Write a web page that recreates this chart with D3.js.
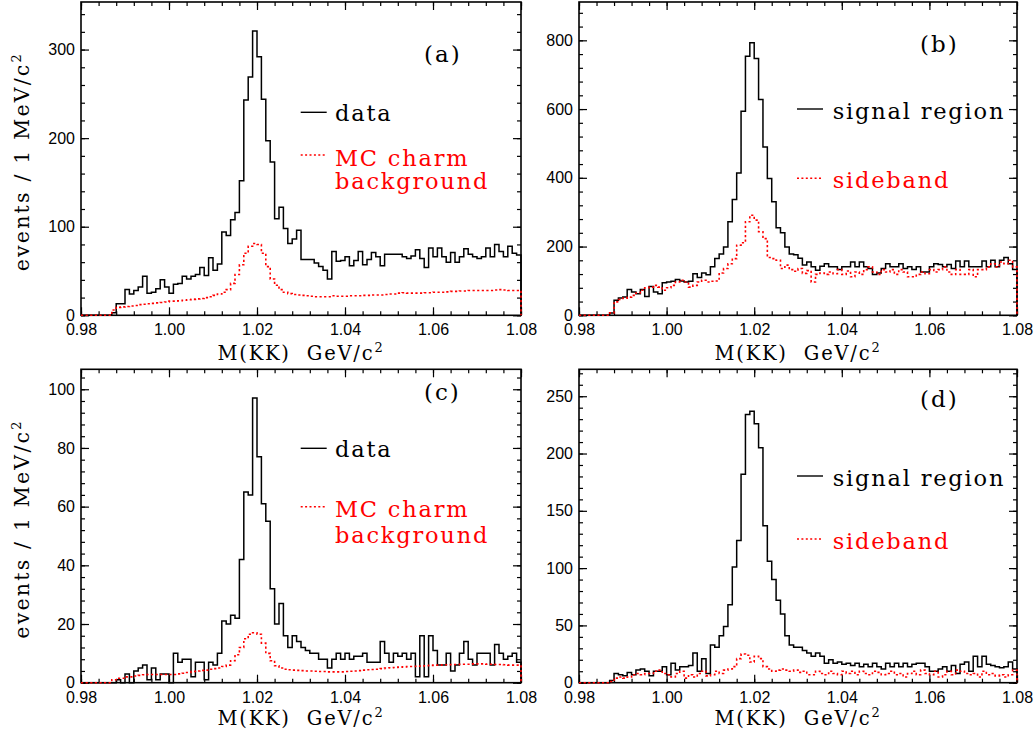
<!DOCTYPE html>
<html>
<head>
<meta charset="utf-8">
<script src="https://cdn.jsdelivr.net/npm/d3@7"></script>
<style>
  body { margin: 0; background: #fff; }
  svg { display: block; }
  .serif { font-family: "DejaVu Serif", serif; white-space: pre; }
</style>
</head>
<body>
<svg id="chart" width="1035" height="740"></svg>
<script>
// M(KK) histograms, 1 MeV/c^2 bins from 0.980 to 1.080 GeV/c^2
const massEdges = d3.range(101).map(i => 0.98 + i * 0.001);
const xMajorTicks = [0.98, 1.00, 1.02, 1.04, 1.06, 1.08];

// (a) data vs. MC charm background
const aData = [0,0,0,0,0,0,0,3,13,13,
  29,24,28,32,44,25,26,30,40,32,
  25,35,36,44,41,44,46,54,45,65,
  51,58,94,90,108,116,152,243,269,321,
  292,244,197,173,109,122,98,81,86,96,
  63,63,63,59,55,51,41,72,61,62,
  66,56,62,72,57,63,71,66,56,69,
  69,69,69,66,64,67,74,64,54,76,
  66,76,66,60,71,60,66,75,69,66,
  64,66,76,66,80,72,66,78,70,68];
const aMC = [0,0,0,0,0,0,0,6,9,9.5,
  10,10.5,11,12,12.5,13,13.5,14,14.5,15,
  16,16,16.5,17,17.5,18,18.5,19,20,21,
  22.5,24,26,29,36,46,57,70,78,81,
  80,70,55,41,34,29,26,24.5,23.5,23,
  22.5,22,21.5,21,21,21,21,22,21.5,21.5,
  21.5,22,22,22,22.5,22.5,23,23,23,23.5,
  24,24,25,25.5,25,25,25,25,25.5,25.5,
  26,26,26,26.5,27,27,27.5,27.5,28,28,
  28,28,28,28,28.5,29,28.5,28,28,28];
const aYTicks = [0, 100, 200, 300];

// (b) signal region vs. sideband
const bSignal = [0,0,0,0,0,0,0,7,44,50,
  53,75,68,63,75,55,84,68,63,95,
  97,99,104,100,97,99,121,110,123,118,
  141,165,178,199,272,337,414,594,754,793,
  747,628,490,398,330,255,240,199,178,176,
  166,146,155,141,131,143,150,141,141,133,
  141,141,155,141,155,141,136,119,123,136,
  150,141,141,150,136,141,133,141,126,126,
  141,150,148,141,148,136,158,141,158,141,
  141,141,158,141,160,141,160,168,150,133];
const bSideband = [0,0,0,0,0,0,0,7,39,46,
  50,53,58,65,73,80,82,87,82,73,
  80,87,97,102,97,82,87,97,102,97,
  99,100,123,136,150,165,204,211,272,291,
  277,243,223,168,165,160,136,146,133,128,
  136,122,130,97,119,123,119,126,121,133,
  119,129,112,126,119,133,141,126,119,133,
  126,133,119,133,126,112,112,119,126,121,
  133,126,133,141,126,119,133,119,119,133,
  112,133,133,141,150,141,155,150,160,141];
const bYTicks = [0, 200, 400, 600, 800];

// (c) data vs. MC charm background
const cData = [0,0,0,0,0,0,0,0,1,0,
  3,0,4,5,6,1,5,1,3,3,
  0,10,7,8,8,2,7,7,1,7,
  6,10,21,20,23,22,42,65,64,97,
  77,61,55,32,20,27,16,12,16,14,
  12,11,10,10,8,8,5,8,10,8,
  10,8,9,9,10,7,7,7,14,10,
  7,10,9,10,8,10,2,16,2,16,
  11,6,6,10,4,6,10,14,8,6,
  10,10,10,6,13,10,8,9,10,7];
const cMC = [0,0,0,0,0,0,0,1,1.5,1.5,
  2,2,2.3,2.5,2.7,2.8,2.8,2.8,2.8,2.8,
  2.8,2.8,3,3.2,3.5,3.8,4,4.2,4.3,4.6,
  4.8,5,5.5,6,7.5,9.5,12,15,16.5,17,
  16.5,13.5,10,7.5,5.8,5,4.6,4.4,4.3,4.2,
  4.1,4,4,3.9,3.8,3.8,3.7,3.7,3.7,3.7,
  3.8,3.9,4,4.1,4.3,4.4,4.5,4.6,4.8,5,
  5.1,5.2,5.3,5.4,5.5,5.5,5.6,5.7,5.8,5.9,
  6,6,6.1,6.1,6.2,6.2,6.3,6.3,6.3,6.4,
  6.4,6.4,6.3,6.3,6.2,6.2,6.1,6,6,6];
const cYTicks = [0, 20, 40, 60, 80, 100];

// (d) signal region vs. sideband
const dSignal = [0,0,0,0,0,0,0,2,8,7,
  6,9,7,11,12,10,6,10,10,14,
  7,17,11,14,14,15,26,10,21,8,
  33,31,41,49,68,101,124,182,234,237,
  226,205,137,106,90,72,60,41,33,31,
  31,28,26,23,26,23,17,20,17,18,
  16,17,15,17,14,16,14,17,14,12,
  17,14,17,14,17,14,16,17,17,14,
  10,10,12,14,10,15,8,16,18,10,
  23,14,23,16,15,14,13,14,18,12];
const dSideband = [0,0,0,0,0,0,0,1,4,5,
  4,5,7,8,7,8,8,10,11,8,
  7,5,8,10,4,7,5,8,10,6,
  7,10,8,11,12,14,21,25,24,18,
  23,21,14,12,10,11,12,11,10,11,
  9,10,7,7,10,8,7,10,8,7,
  10,8,10,7,10,8,7,10,9,7,
  8,10,7,8,5,8,10,7,11,8,
  7,10,5,7,10,7,11,10,8,7,
  8,5,10,7,8,6,7,5,7,11];
const dYTicks = [0, 50, 100, 150, 200, 250];

const RED = "#ff0000";
const svg = d3.select("#chart");

const panels = [
  { tag: "(a)", x0: 81, x1: 521, y0: 2, y1: 315.3, yMax: 353.7, yTicks: aYTicks, yMinor: 20,
    solid: aData, dotted: aMC, yTitle: true, tagPos: [424, 62], titleY: 360,
    legendX: 300.7, textX: 335,
    legend: [ { dotted: false, lineY: 112.3, rows: [["data", 121]] },
              { dotted: true, lineY: 155, rows: [["MC charm", 165.7], ["background", 189.3]] } ] },
  { tag: "(b)", x0: 579, x1: 1017, y0: 2, y1: 315.3, yMax: 911.5, yTicks: bYTicks, yMinor: 40,
    solid: bSignal, dotted: bSideband, yTitle: false, tagPos: [920, 52], titleY: 360,
    legendX: 797, textX: 832.7,
    legend: [ { dotted: false, lineY: 109, rows: [["signal region", 119]] },
              { dotted: true, lineY: 178.3, rows: [["sideband", 188.3]] } ] },
  { tag: "(c)", x0: 81, x1: 521, y0: 369.3, y1: 682.7, yMax: 106.8, yTicks: cYTicks, yMinor: 4,
    solid: cData, dotted: cMC, yTitle: true, tagPos: [424, 400.3], titleY: 725,
    legendX: 300.7, textX: 335,
    legend: [ { dotted: false, lineY: 448.3, rows: [["data", 457.3]] },
              { dotted: true, lineY: 506.7, rows: [["MC charm", 517.3], ["background", 542.7]] } ] },
  { tag: "(d)", x0: 579, x1: 1017, y0: 369.3, y1: 682.7, yMax: 273.5, yTicks: dYTicks, yMinor: 10,
    solid: dSignal, dotted: dSideband, yTitle: false, tagPos: [920, 407], titleY: 725,
    legendX: 797, textX: 832.7,
    legend: [ { dotted: false, lineY: 476, rows: [["signal region", 486]] },
              { dotted: true, lineY: 539, rows: [["sideband", 549]] } ] }
];

// step outline of a histogram, closed down to zero at both ends
function histPoints(values) {
  const pts = [[massEdges[0], 0]];
  values.forEach((v, i) => pts.push([massEdges[i], v]));
  pts.push([massEdges[massEdges.length - 1], values[values.length - 1]]);
  pts.push([massEdges[massEdges.length - 1], 0]);
  return pts;
}

function styleAxis(sel) {
  sel.select(".domain").remove();
  sel.selectAll(".tick line").attr("stroke", "#000").attr("stroke-width", 1.2);
  sel.selectAll(".tick text")
    .attr("fill", "#000")
    .attr("font-family", "'Liberation Sans', Arial, sans-serif")
    .attr("font-size", 16);
}

panels.forEach(p => {
  const x = d3.scaleLinear().domain([0.98, 1.08]).range([p.x0, p.x1]);
  const y = d3.scaleLinear().domain([0, p.yMax]).range([p.y1, p.y0]);
  const g = svg.append("g");

  const xMinor = d3.range(26).map(i => 0.98 + i * 0.004);
  const yMinor = d3.range(0, p.yMax, p.yMinor);

  // bottom axis with labels, plus minor ticks
  g.append("g").attr("transform", `translate(0,${p.y1})`)
    .call(d3.axisBottom(x).tickValues(xMinor).tickSize(-4).tickFormat(""))
    .call(styleAxis);
  g.append("g").attr("transform", `translate(0,${p.y1})`)
    .call(d3.axisBottom(x).tickValues(xMajorTicks).tickSize(-8).tickPadding(8.5).tickFormat(d3.format(".2f")))
    .call(styleAxis);
  // top axis, ticks only
  g.append("g").attr("transform", `translate(0,${p.y0})`)
    .call(d3.axisTop(x).tickValues(xMinor).tickSize(-4).tickFormat(""))
    .call(styleAxis);
  g.append("g").attr("transform", `translate(0,${p.y0})`)
    .call(d3.axisTop(x).tickValues(xMajorTicks).tickSize(-8).tickFormat(""))
    .call(styleAxis);
  // left axis with labels
  g.append("g").attr("transform", `translate(${p.x0},0)`)
    .call(d3.axisLeft(y).tickValues(yMinor).tickSize(-4).tickFormat(""))
    .call(styleAxis);
  g.append("g").attr("transform", `translate(${p.x0},0)`)
    .call(d3.axisLeft(y).tickValues(p.yTicks).tickSize(-8).tickPadding(6).tickFormat(d3.format("d")))
    .call(styleAxis);
  // right axis, ticks only
  g.append("g").attr("transform", `translate(${p.x1},0)`)
    .call(d3.axisRight(y).tickValues(yMinor).tickSize(-4).tickFormat(""))
    .call(styleAxis);
  g.append("g").attr("transform", `translate(${p.x1},0)`)
    .call(d3.axisRight(y).tickValues(p.yTicks).tickSize(-8).tickFormat(""))
    .call(styleAxis);

  // frame
  g.append("rect")
    .attr("x", p.x0).attr("y", p.y0)
    .attr("width", p.x1 - p.x0).attr("height", p.y1 - p.y0)
    .attr("fill", "none").attr("stroke", "#000").attr("stroke-width", 1.6);

  const line = d3.line().x(d => x(d[0])).y(d => y(d[1])).curve(d3.curveStepAfter);

  g.append("path").attr("d", line(histPoints(p.solid)))
    .attr("fill", "none").attr("stroke", "#000").attr("stroke-width", 1.5)
    .attr("stroke-linejoin", "miter");
  g.append("path").attr("d", line(histPoints(p.dotted)))
    .attr("fill", "none").attr("stroke", RED).attr("stroke-width", 1.6)
    .attr("stroke-dasharray", "2.2,2.4");

  // panel tag
  g.append("text").attr("class", "serif")
    .attr("x", p.tagPos[0]).attr("y", p.tagPos[1])
    .attr("font-size", 23).attr("letter-spacing", 2)
    .text(p.tag);

  // legend
  p.legend.forEach(item => {
    const col = item.dotted ? RED : "#000";
    g.append("line")
      .attr("x1", p.legendX).attr("x2", p.legendX + 26)
      .attr("y1", item.lineY).attr("y2", item.lineY)
      .attr("stroke", col).attr("stroke-width", item.dotted ? 1.5 : 1.4)
      .attr("stroke-dasharray", item.dotted ? "2,2.4" : null);
    item.rows.forEach(([label, base]) => {
      g.append("text").attr("class", "serif")
        .attr("x", p.textX).attr("y", base)
        .attr("font-size", 22.5).attr("letter-spacing", 1.8)
        .attr("fill", col)
        .text(label);
    });
  });

  // x-axis title
  const xt = g.append("text").attr("class", "serif")
    .attr("x", (p.x0 + p.x1) / 2).attr("y", p.titleY)
    .attr("text-anchor", "middle")
    .attr("font-size", 19.5).attr("letter-spacing", 1.8);
  xt.append("tspan").text("M(KK)  GeV/c");
  xt.append("tspan").attr("dy", -8).attr("font-size", 13).text("2");

  // y-axis title
  if (p.yTitle) {
    const yt = g.append("text").attr("class", "serif")
      .attr("transform", `translate(29.3,${(p.y0 + p.y1) / 2 + 3}) rotate(-90)`)
      .attr("text-anchor", "middle")
      .attr("font-size", 20.5).attr("letter-spacing", 2.2);
    yt.append("tspan").text("events / 1 MeV/c");
    yt.append("tspan").attr("dy", -8).attr("font-size", 13).text("2");
  }
});
</script>
</body>
</html>
